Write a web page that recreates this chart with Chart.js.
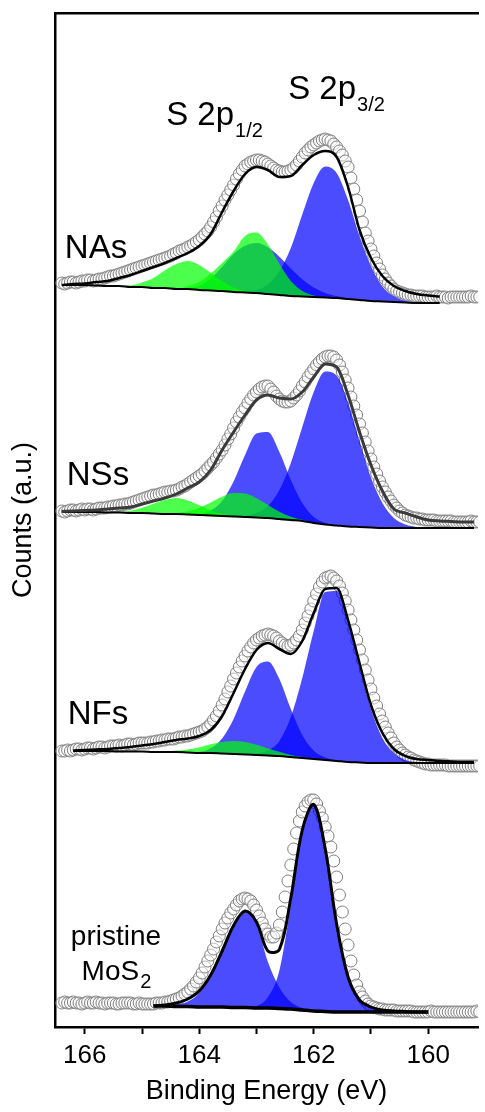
<!DOCTYPE html>
<html>
<head>
<meta charset="utf-8">
<script src="https://cdn.jsdelivr.net/npm/chart.js@4.4.1/dist/chart.umd.min.js"></script>
<style>
  html, body { margin: 0; padding: 0; background: #fff; }
</style>
</head>
<body>
<canvas id="chart" width="485" height="1112"></canvas>
<script>
// energies of the measured points (eV), 0.05 eV apart
const dataEnergy = [
  166.40, 166.35, 166.30, 166.25, 166.20, 166.15, 166.10, 166.05, 166.00, 165.95,
  165.90, 165.85, 165.80, 165.75, 165.70, 165.65, 165.60, 165.55, 165.50, 165.45,
  165.40, 165.35, 165.30, 165.25, 165.20, 165.15, 165.10, 165.05, 165.00, 164.95,
  164.90, 164.85, 164.80, 164.75, 164.70, 164.65, 164.60, 164.55, 164.50, 164.45,
  164.40, 164.35, 164.30, 164.25, 164.20, 164.15, 164.10, 164.05, 164.00, 163.95,
  163.90, 163.85, 163.80, 163.75, 163.70, 163.65, 163.60, 163.55, 163.50, 163.45,
  163.40, 163.35, 163.30, 163.25, 163.20, 163.15, 163.10, 163.05, 163.00, 162.95,
  162.90, 162.85, 162.80, 162.75, 162.70, 162.65, 162.60, 162.55, 162.50, 162.45,
  162.40, 162.35, 162.30, 162.25, 162.20, 162.15, 162.10, 162.05, 162.00, 161.95,
  161.90, 161.85, 161.80, 161.75, 161.70, 161.65, 161.60, 161.55, 161.50, 161.45,
  161.40, 161.35, 161.30, 161.25, 161.20, 161.15, 161.10, 161.05, 161.00, 160.95,
  160.90, 160.85, 160.80, 160.75, 160.70, 160.65, 160.60, 160.55, 160.50, 160.45,
  160.40, 160.35, 160.30, 160.25, 160.20, 160.15, 160.10, 160.05, 160.00, 159.95,
  159.90, 159.85, 159.80, 159.75, 159.70, 159.65, 159.60, 159.55, 159.50, 159.45,
  159.40, 159.35, 159.30, 159.25, 159.20, 159.15, 159.10];

// energies of the fit curves (eV)
const fitEnergy = [166.4, 166.2, 166.0, 165.8, 165.6, 165.4, 165.2, 165.0, 164.8, 164.6,
  164.4, 164.2, 164.0, 163.8, 163.6, 163.4, 163.2, 163.0, 162.8, 162.6,
  162.4, 162.2, 162.0, 161.8, 161.6, 161.4, 161.2, 161.0, 160.8, 160.6,
  160.4, 160.2, 160.0, 159.8, 159.6, 159.4, 159.2];

// vertical offset of each spectrum (a.u.)
const panelOffsets = [720, 495, 260, 10];

// measured counts
const countsNAs = [
  24, 23, 24, 25, 25, 24, 25, 26, 26, 27, 27, 26, 27, 28, 28, 29, 30, 31, 31, 32,
  33, 34, 35, 36, 37, 38, 39, 40, 41, 42, 43, 44, 45, 46, 47, 48, 49, 50, 51, 53,
  54, 56, 57, 58, 60, 61, 63, 65, 67, 70, 73, 76, 80, 85, 90, 96, 101, 107, 112, 117,
  122, 128, 133, 137, 141, 143, 145, 146, 147, 147, 146, 145, 143, 141, 139, 137, 136, 135, 135, 136,
  137, 139, 142, 146, 150, 154, 157, 160, 162, 164, 166, 167, 168, 167, 166, 163, 160, 156, 152, 146,
  140, 129, 118, 107, 96, 85, 74, 66, 58, 51, 44, 38, 32, 28, 24, 21, 18, 16, 15, 14,
  13, 12, 12, 11, 11, 11, 11, 10, 10, 10, 10, 11, 10, 10, 10, 9, 10, 10, 10, 10,
  10, 10, 10, 11, 10, 10, 10];
const countsNSs = [
  21, 20, 21, 22, 22, 21, 22, 23, 22, 23, 23, 22, 23, 24, 24, 24, 25, 25, 26, 26,
  27, 27, 28, 28, 29, 30, 31, 32, 33, 34, 35, 36, 37, 37, 38, 39, 40, 40, 41, 41,
  42, 43, 45, 46, 48, 50, 52, 54, 56, 58, 61, 64, 67, 70, 74, 78, 82, 87, 93, 98,
  104, 110, 115, 120, 124, 129, 133, 137, 140, 143, 145, 146, 146, 143, 140, 136, 133, 131, 130, 130,
  131, 134, 137, 141, 146, 150, 155, 159, 163, 167, 170, 173, 175, 176, 176, 175, 172, 167, 160, 152,
  144, 135, 126, 117, 108, 99, 90, 81, 73, 65, 58, 51, 45, 40, 35, 31, 27, 24, 21, 19,
  17, 16, 15, 14, 14, 13, 13, 12, 12, 12, 12, 11, 11, 11, 11, 11, 11, 10, 10, 10,
  10, 10, 10, 11, 10, 10, 10];
const countsNFs = [
  16, 16, 17, 16, 17, 18, 18, 17, 18, 19, 19, 18, 19, 20, 20, 19, 20, 21, 21, 21,
  22, 21, 22, 23, 23, 22, 23, 24, 24, 24, 24, 25, 25, 26, 26, 27, 27, 28, 28, 28,
  29, 30, 30, 31, 31, 32, 33, 34, 35, 36, 38, 40, 43, 47, 51, 56, 62, 68, 75, 81,
  88, 94, 100, 106, 111, 116, 120, 124, 127, 129, 131, 132, 133, 132, 131, 129, 126, 124, 122, 121,
  122, 124, 127, 131, 137, 144, 151, 158, 166, 173, 180, 185, 189, 190, 191, 189, 186, 181, 174, 166,
  157, 147, 137, 127, 117, 107, 97, 87, 78, 69, 61, 53, 46, 40, 34, 29, 24, 20, 17, 14,
  12, 10, 9, 7, 6, 5, 4, 3, 3, 2, 2, 2, 2, 2, 2, 1, 1, 1, 1, 1,
  1, 1, 1, 1, 1, 1, 1];
const countsMoS2 = [
  14, 15, 14, 14, 15, 14, 14, 13, 14, 15, 14, 14, 15, 14, 14, 13, 14, 14, 14, 13,
  13, 14, 14, 14, 14, 13, 13, 14, 13, 13, 13, 13, 13, 14, 14, 14, 15, 15, 16, 17,
  18, 19, 21, 23, 25, 28, 31, 35, 39, 44, 50, 56, 62, 68, 75, 81, 88, 94, 99, 104,
  108, 112, 116, 118, 119, 118, 116, 112, 107, 101, 94, 88, 83, 80, 80, 84, 92, 105, 120, 136,
  152, 168, 184, 196, 205, 211, 215, 217, 217, 213, 206, 199, 190, 181, 170, 156, 140, 122, 105, 88,
  72, 56, 42, 32, 25, 20, 16, 13, 11, 10, 9, 8, 8, 7, 7, 7, 7, 6, 6, 6,
  6, 6, 6, 5, 5, 5, 5, 5, 5, 6, 5, 5, 5, 5, 5, 5, 5, 5, 5, 5,
  5, 5, 5, 5, 5, 6, 5];

// background (baseline) of each fit
const baseNAs = [22, 22, 22, 21.5, 21, 21, 20, 20, 19, 19, 18, 18, 17, 16.5, 16, 15, 14.5, 14, 13, 12,
  11, 10.5, 10, 9.5, 9, 8, 7, 6, 5.5, 5, 4.5, 4, 4, 4, null, null, null];
const baseNSs = [20, 20, 20, 20, 19.5, 19.5, 19, 19, 18.5, 18, 18, 17.5, 17, 16.5, 16, 15.5, 15, 14.5, 14, 13,
  12, 11, 9, 7.5, 6.5, 5.5, 5, 4.5, 4, 4, 4, 4, 4, 4, 4, 4, 4];
const baseNFs = [null, 16, 16, 16, 16, 15.5, 15.5, 15.5, 15, 15, 15, 14.5, 14, 14, 13.5, 13, 12.5, 12, 11.5, 11,
  10, 9, 8, 7, 6, 5, 4.5, 4, 4, 4, 4, 4, 4, 4, 4, 4, 4];
const baseMoS2 = [null, null, null, null, null, null, null, null, 11, 11, 10.5, 10.5, 10, 10, 10, 9.5, 9.5, 9, 9, 8.5,
  8, 7, 6, 5.5, 5, 5, 5, 5, 5, 5, 5, 5, 5, null, null, null, null];

// fit envelopes
const envNAs = [22, 23, 23.5, 25, 26, 29, 32, 36, 40, 44, 49, 54, 61, 73, 95, 116, 133, 140, 137, 130,
  131, 142, 152, 156, 150, 120, 77, 49, 31, 21, 16, 13, 11.5, 10.5, null, null, null];
const envNSs = [20.5, 21, 21.5, 22, 23, 24, 25, 28, 31, 34, 38, 44, 50, 62, 82, 100, 117, 132, 137, 134,
  133, 140, 155, 168, 165, 137, 100, 67, 41, 23, 19, 15, 12, 11, 10.5, 10, 10];
const envNFs = [null, 16.5, 17, 17.5, 18, 19, 20, 21.5, 23, 25, 27, 28.5, 31, 37, 51, 74, 98, 117, 124, 118,
  113, 126, 154, 178, 179, 147, 104, 62, 34, 18, 11, 8, 7, 6, 5.5, 5, 5];
const envMoS2 = [null, null, null, null, null, null, null, null, 11, 12, 14, 18, 26, 42, 66, 91.5, 106, 95, 66, 67.5,
  119, 187, 212.5, 168.5, 93, 40, 17, 10, 7, 6, 5.5, 5, 5, null, null, null, null];

// fitted components, height above the baseline
const b32NAs = [0, 0, 0, 0, 0, 0, 0, 0, 0, 0, 0, 0, 0, 0, 0, 0.3, 0.9, 3.2, 9.5, 24,
  48, 82, 114, 131, 125, 99, 64, 35, 15, 5.7, 1.7, 0.5, 0, 0, 0, 0, 0];
const b12NAs = [0, 0, 0, 0, 0, 0, 0, 0, 0, 0, 0, 1, 4, 12, 24, 38, 46.7, 50, 46.7, 38.3,
  27.5, 17.2, 9.5, 4.5, 1.9, 0.7, 0, 0, 0, 0, 0, 0, 0, 0, 0, 0, 0];
const gNAs = [0, 0, 0, 0, 0, 0, 0, 0, 0, 0, 0, 3, 8, 17, 28, 40.6, 56.6, 60.5, 49.5, 31,
  15, 5.5, 1.5, 0.3, 0, 0, 0, 0, 0, 0, 0, 0, 0, 0, 0, 0, 0];
const lgNAs = [0, 0, 0, 0, 0, 0.5, 1.6, 4.5, 10, 17.7, 25, 28, 25, 17.7, 10, 4.5, 1.6, 0.5, 0, 0,
  0, 0, 0, 0, 0, 0, 0, 0, 0, 0, 0, 0, 0, 0, 0, 0, 0];

const b32NSs = [0, 0, 0, 0, 0, 0, 0, 0, 0, 0, 0, 0, 0, 0, 0, 0, 1.3, 4.4, 12, 29,
  57, 94, 131, 153, 150, 124, 86, 50, 25, 10, 3.5, 1, 0, 0, 0, 0, 0];
const b12NSs = [0, 0, 0, 0, 0, 0, 0, 0, 0, 0, 0, 0, 1, 5, 15, 35, 62, 84, 86, 67,
  40, 18, 6, 1.6, 0, 0, 0, 0, 0, 0, 0, 0, 0, 0, 0, 0, 0];
const gNSs = [0, 0, 0, 0, 0, 0, 0, 0, 0, 0.4, 1.2, 3.2, 7.2, 13, 19.2, 23.4, 23.4, 19.2, 13, 7.2,
  3.2, 1.2, 0.4, 0, 0, 0, 0, 0, 0, 0, 0, 0, 0, 0, 0, 0, 0];
const lgNSs = [0, 0, 0, 0, 0, 0.7, 2.2, 5.2, 9.7, 14, 16, 14, 9.7, 5.2, 2.2, 0.7, 0, 0, 0, 0,
  0, 0, 0, 0, 0, 0, 0, 0, 0, 0, 0, 0, 0, 0, 0, 0, 0];

const b32NFs = [0, 0, 0, 0, 0, 0, 0, 0, 0, 0, 0, 0, 0, 0, 0, 0, 0.4, 1.5, 5, 15,
  40, 80, 128, 168, 170, 140, 96, 54, 25, 10, 3, 1, 0, 0, 0, 0, 0];
const b12NFs = [0, 0, 0, 0, 0, 0, 0, 0, 0, 0, 0, 0, 1.1, 4.7, 15, 35, 63, 88, 94, 77,
  48, 23, 8.5, 2.4, 0.5, 0, 0, 0, 0, 0, 0, 0, 0, 0, 0, 0, 0];
const gNFs = [0, 0, 0, 0, 0, 0, 0, 0, 0, 0.6, 1.4, 3.1, 5.6, 8.7, 11.5, 13, 12.4, 10.2, 7.1, 4.2,
  2.1, 0.9, 0.3, 0, 0, 0, 0, 0, 0, 0, 0, 0, 0, 0, 0, 0, 0];

const b32MoS2 = [0, 0, 0, 0, 0, 0, 0, 0, 0, 0, 0, 0, 0, 0, 0, 0, 0, 2, 11, 38,
  104, 178, 206, 163, 88, 35, 12, 5, 2, 1, 0.5, 0, 0, 0, 0, 0, 0];
const b12MoS2 = [0, 0, 0, 0, 0, 0, 0, 0, 0, 0, 2, 5, 14, 32, 56, 82, 96, 84, 46, 21,
  7, 2, 0.5, 0, 0, 0, 0, 0, 0, 0, 0, 0, 0, 0, 0, 0, 0];

const FONT = '"Liberation Sans", Arial, sans-serif';
const BLUE = 'rgba(0, 0, 255, 0.7)';
const GREEN = 'rgba(0, 255, 0, 0.7)';

const panels = [
  { counts: countsNAs, base: baseNAs, env: envNAs, blue: [b32NAs, b12NAs], green: [gNAs, lgNAs], envColor: '#000', envWidth: 2.5, baseWidth: 2, smooth: false },
  { counts: countsNSs, base: baseNSs, env: envNSs, blue: [b32NSs, b12NSs], green: [gNSs, lgNSs], envColor: '#3a3a3a', envWidth: 3, baseWidth: 2, smooth: false },
  { counts: countsNFs, base: baseNFs, env: envNFs, blue: [b32NFs, b12NFs], green: [gNFs], envColor: '#000', envWidth: 2.5, baseWidth: 2, smooth: false },
  { counts: countsMoS2, base: baseMoS2, env: envMoS2, blue: [b32MoS2, b12MoS2], green: [], envColor: '#000', envWidth: 3, baseWidth: 3.5, smooth: true }
];

function shifted(energy, values, off) {
  return energy.map((e, i) => ({ x: e, y: values[i] === null ? null : values[i] + off }));
}
function onBase(base, comp, off) {
  return fitEnergy.map((e, i) => ({ x: e, y: base[i] === null ? null : base[i] + comp[i] + off }));
}

let datasets = [];
panels.forEach(function (p, k) {
  let off = panelOffsets[k];
  datasets.push({
    data: shifted(dataEnergy, p.counts, off),
    showLine: false,
    pointRadius: 6,
    pointBorderWidth: 1,
    pointBorderColor: '#808080',
    pointBackgroundColor: 'rgba(255,255,255,0.45)',
    order: 5
  });
  let baseIndex = datasets.length;
  datasets.push({
    data: shifted(fitEnergy, p.base, off),
    borderColor: '#000',
    borderWidth: p.baseWidth,
    pointRadius: 0,
    cubicInterpolationMode: 'monotone',
    order: 2
  });
  p.blue.forEach(function (c) {
    datasets.push({
      data: onBase(p.base, c, off),
      borderColor: 'rgba(0,0,0,0)',
      borderWidth: 0,
      backgroundColor: BLUE,
      fill: baseIndex,
      pointRadius: 0,
      cubicInterpolationMode: 'monotone',
      order: 4
    });
  });
  p.green.forEach(function (c) {
    datasets.push({
      data: onBase(p.base, c, off),
      borderColor: 'rgba(0,0,0,0)',
      borderWidth: 0,
      backgroundColor: GREEN,
      fill: baseIndex,
      pointRadius: 0,
      cubicInterpolationMode: 'monotone',
      order: 3
    });
  });
  let env = {
    data: shifted(fitEnergy, p.env, off),
    borderColor: p.envColor,
    borderWidth: p.envWidth,
    pointRadius: 0,
    order: 1
  };
  if (p.smooth) env.tension = 0.35;
  else env.cubicInterpolationMode = 'monotone';
  datasets.push(env);
});

// text written inside the plot, anchored in data units
const textLabels = {
  id: 'textLabels',
  afterDatasetsDraw(chart, args, opts) {
    const ctx = chart.ctx;
    const x = chart.scales.x;
    const y = chart.scales.y;
    ctx.save();
    ctx.fillStyle = '#000';
    ctx.textBaseline = 'alphabetic';
    ctx.textAlign = 'left';
    opts.items.forEach(function (it) {
      ctx.font = it.size + 'px ' + FONT;
      let w = ctx.measureText(it.text).width;
      let sw = 0;
      if (it.sub) {
        ctx.font = it.subSize + 'px ' + FONT;
        sw = ctx.measureText(it.sub).width;
      }
      let px = x.getPixelForValue(it.energy);
      if (it.center) px -= (w + sw) / 2;
      let py = y.getPixelForValue(panelOffsets[it.panel] + it.counts);
      ctx.font = it.size + 'px ' + FONT;
      ctx.fillText(it.text, px, py);
      if (it.sub) {
        ctx.font = it.subSize + 'px ' + FONT;
        ctx.fillText(it.sub, px + w + 1, py + it.shift);
      }
    });
    ctx.restore();
  }
};

Chart.defaults.font.family = FONT;

let chart = new Chart(document.getElementById('chart'), {
  type: 'line',
  data: { datasets: datasets },
  plugins: [textLabels],
  options: {
    responsive: false,
    animation: false,
    devicePixelRatio: 1,
    layout: { padding: { top: 13, right: 0, bottom: 0, left: 0 } },
    plugins: {
      legend: { display: false },
      tooltip: { enabled: false },
      textLabels: {
        items: [
          { text: 'NAs', panel: 0, energy: 166.348, counts: 49, size: 33 },
          { text: 'S 2p', sub: '1/2', panel: 0, energy: 164.578, counts: 182, size: 33, subSize: 20, shift: 12 },
          { text: 'S 2p', sub: '3/2', panel: 0, energy: 162.447, counts: 208, size: 33, subSize: 20, shift: 12 },
          { text: 'NSs', panel: 1, energy: 166.314, counts: 47, size: 33 },
          { text: 'NFs', panel: 2, energy: 166.297, counts: 43, size: 33 },
          { text: 'pristine', panel: 3, energy: 165.455, counts: 72, size: 28, center: true },
          { text: 'MoS', sub: '2', panel: 3, energy: 165.455, counts: 37, size: 28, subSize: 20, shift: 8, center: true }
        ]
      }
    },
    scales: {
      x: {
        type: 'linear',
        position: 'bottom',
        reverse: true,
        min: 159.13,
        max: 166.52,
        ticks: {
          stepSize: 1,
          includeBounds: false,
          autoSkip: false,
          maxRotation: 0,
          padding: 6,
          color: '#000',
          font: { size: 26 },
          callback: function (v) {
            let r = Math.round(v);
            return r % 2 === 0 ? String(r) : '';
          }
        },
        grid: { drawOnChartArea: false, drawTicks: true, tickLength: 7, tickWidth: 2, tickColor: '#000' },
        border: { display: true, color: '#000', width: 2.5 },
        title: { display: true, text: 'Binding Energy (eV)', color: '#000', font: { size: 27 }, padding: { top: 0, bottom: 4 } },
        afterFit: function (s) { s.height = 85; }
      },
      xTop: {
        type: 'linear',
        position: 'top',
        reverse: true,
        min: 159.13,
        max: 166.52,
        ticks: { display: false },
        grid: { drawOnChartArea: false, drawTicks: false },
        border: { display: true, color: '#000', width: 2.5 },
        afterFit: function (s) { s.height = 0; }
      },
      y: {
        type: 'linear',
        min: 0,
        max: 1014,
        ticks: { display: false },
        grid: { drawOnChartArea: false, drawTicks: false },
        border: { display: true, color: '#000', width: 2.5 },
        title: { display: true, text: 'Counts (a.u.)', color: '#000', font: { size: 27 }, padding: { top: 7, bottom: 0 } },
        afterFit: function (s) { s.width = 55; }
      }
    }
  }
});
</script>
</body>
</html>
